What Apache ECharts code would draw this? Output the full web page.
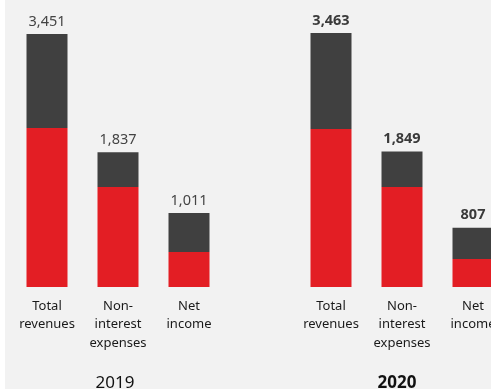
<!DOCTYPE html>
<html>
<head>
<meta charset="utf-8">
<script src="https://cdn.jsdelivr.net/npm/echarts@6/dist/echarts.min.js"></script>
<style>
  html, body { margin: 0; padding: 0; background: #ffffff; overflow: hidden; }
  #chart { position: absolute; left: 5px; top: 0; width: 486px; height: 389px; background: #f2f2f2; }
</style>
</head>
<body>
<div id="chart"></div>
<script>
// Slots: three measures for 2019, an empty spacer, three measures for 2020
const categories = ['Total\nrevenues', 'Non-\ninterest\nexpenses', 'Net\nincome', '',
                    'Total\nrevenues', 'Non-\ninterest\nexpenses', 'Net\nincome'];
const yearLabels = ['', '2019', '', '', '', '2020', ''];
const boldYears = ['2020'];
const lowerPart = [2169, 1364, 477, null, 2155, 1364, 382];   // red segment
const upperPart = [1282, 473, 534, null, 1308, 485, 425];     // dark segment
const totals = [3451, 1837, 1011, null, 3463, 1849, 807];
const boldTotals = [false, false, false, false, true, true, true];

const FONT = '"Noto Sans", "Open Sans", sans-serif';

function fmt(v) {
  return v == null ? '' : v.toLocaleString('en-US');
}

const chart = echarts.init(document.getElementById('chart'));
chart.setOption({
  backgroundColor: '#f2f2f2',
  animation: false,
  // the last slot runs past the right edge of the panel, so labels may overflow
  grid: { left: 6.5, right: -17.5, top: 30.4, bottom: 102, outerBoundsMode: 'none', containLabel: false },
  xAxis: [
    {
      type: 'category',
      data: categories,
      axisLine: { show: false },
      axisTick: { show: false },
      axisLabel: {
        interval: 0,
        margin: 10,
        color: '#1a1a1a',
        fontFamily: FONT,
        fontSize: 13,
        lineHeight: 18.5
      }
    },
    {
      type: 'category',
      data: yearLabels,
      position: 'bottom',
      offset: 78,
      axisLine: { show: false },
      axisTick: { show: false },
      axisLabel: {
        interval: 0,
        margin: 8,
        color: '#111111',
        fontFamily: FONT,
        fontSize: 17,
        lineHeight: 20,
        formatter: function (v) {
          return boldYears.indexOf(v) >= 0 ? '{b|' + v + '}' : '{n|' + v + '}';
        },
        rich: {
          n: { fontSize: 17, fontFamily: FONT, color: '#111111', padding: [0, 6, 0, 0] },
          b: { fontWeight: 'bold', fontSize: 17, fontFamily: FONT, color: '#111111', padding: [0, 10, 0, 0] }
        }
      }
    }
  ],
  yAxis: { type: 'value', min: 0, max: 3500, show: false, splitLine: { show: false } },
  series: [
    {
      type: 'bar',
      stack: 'total',
      barWidth: 41,
      data: lowerPart,
      itemStyle: { color: '#e31e24' }
    },
    {
      type: 'bar',
      stack: 'total',
      barWidth: 41,
      data: upperPart.map(function (v, i) {
        return {
          value: v,
          label: { fontWeight: boldTotals[i] ? 'bold' : 'normal', color: boldTotals[i] ? '#3a3a3a' : '#444444' }
        };
      }),
      itemStyle: { color: '#404040' },
      label: {
        show: true,
        position: 'top',
        distance: 5,
        fontFamily: FONT,
        fontSize: 14.5,
        formatter: function (p) { return fmt(totals[p.dataIndex]); }
      }
    }
  ]
});
</script>
</body>
</html>
